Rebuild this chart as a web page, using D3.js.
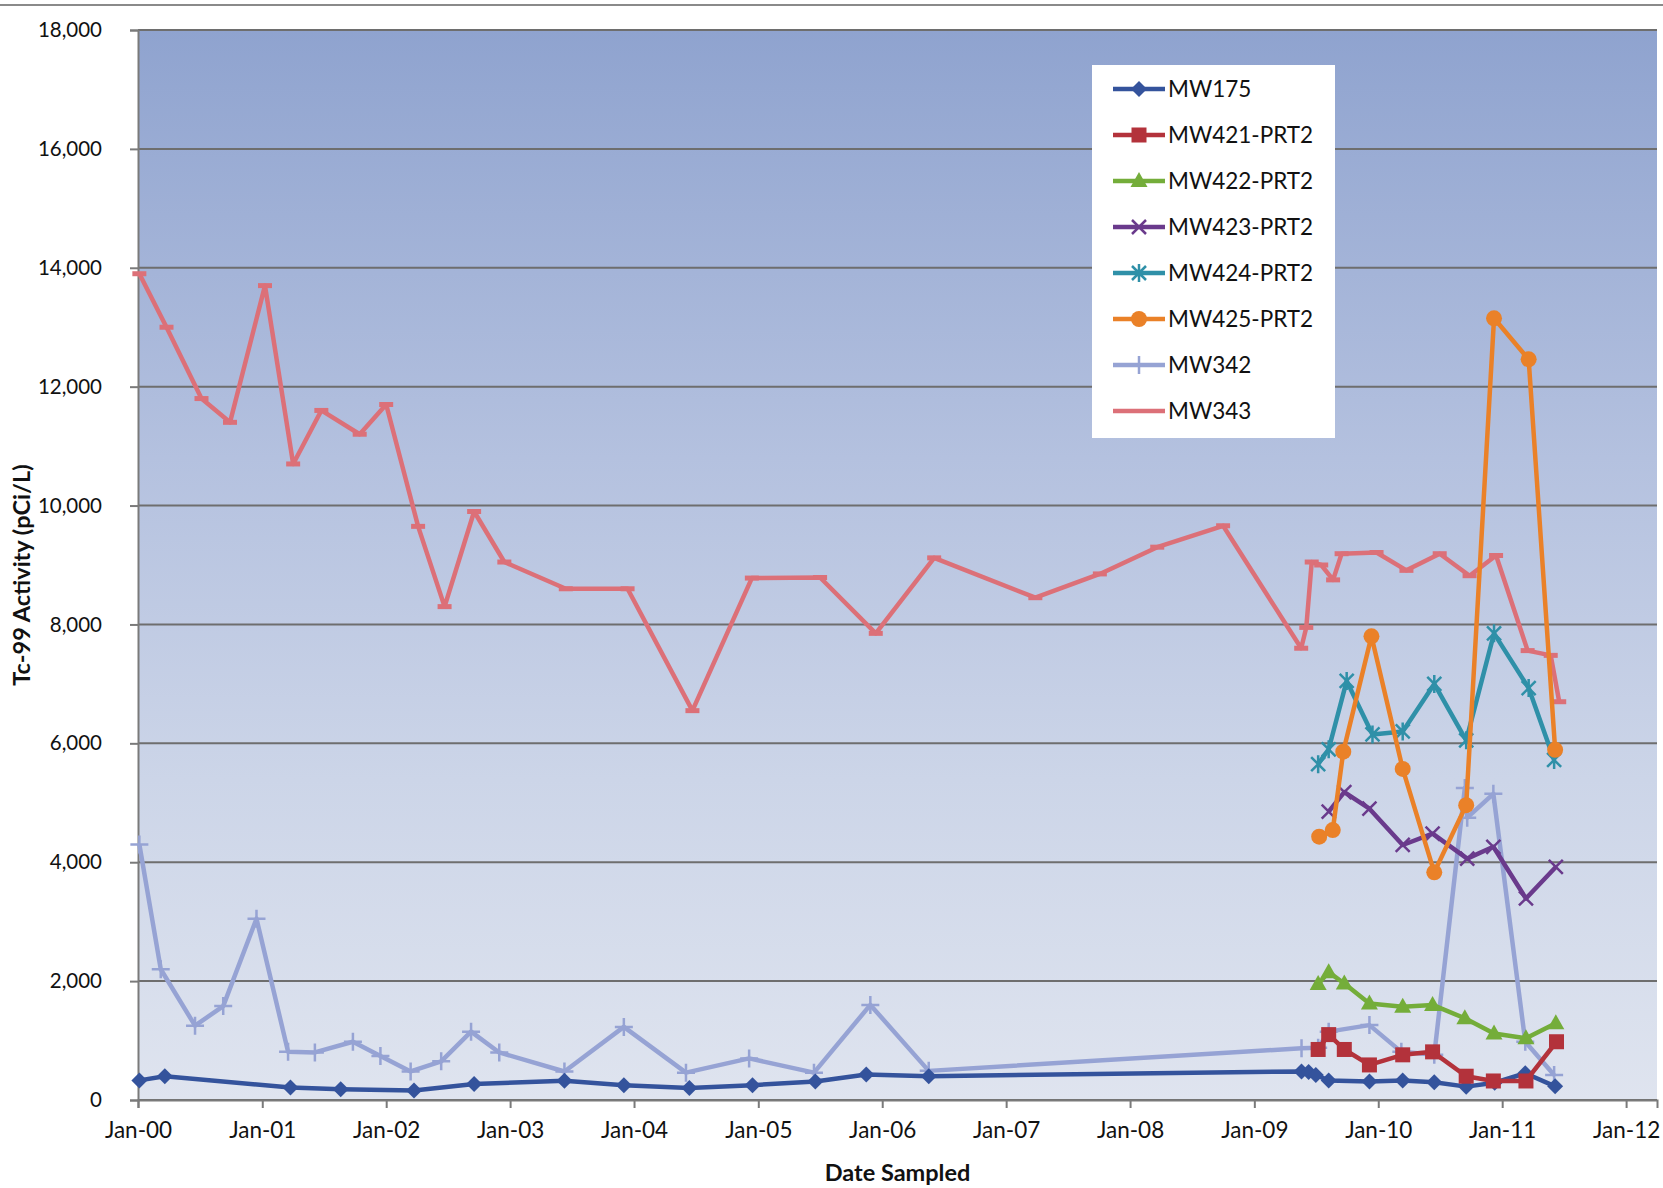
<!DOCTYPE html>
<html>
<head>
<meta charset="utf-8">
<script src="https://cdn.jsdelivr.net/npm/d3@7"></script>
<style>
  body { margin: 0; background: #fff; }
  svg text { font-family: Lato, "Open Sans", sans-serif; fill: #111; }
</style>
</head>
<body>
<script>
// sampling data (date, pCi/L)
var mw175 = [
  ["2000-01-05", 330], ["2000-03-20", 400], ["2001-03-25", 210], ["2001-08-20", 180],
  ["2002-03-24", 160], ["2002-09-17", 270], ["2003-06-10", 325], ["2003-12-02", 250],
  ["2004-06-12", 200], ["2004-12-15", 250], ["2005-06-18", 310], ["2005-11-15", 430],
  ["2006-05-18", 400], ["2009-05-20", 480], ["2009-06-10", 470], ["2009-07-01", 420],
  ["2009-08-08", 330], ["2009-12-06", 310], ["2010-03-14", 330], ["2010-06-15", 300],
  ["2010-09-17", 225], ["2010-12-10", 290], ["2011-03-10", 450], ["2011-06-06", 230]
];
var mw421 = [
  ["2009-07-08", 850], ["2009-08-08", 1100], ["2009-09-23", 850], ["2009-12-06", 590],
  ["2010-03-14", 760], ["2010-06-10", 810], ["2010-09-17", 400], ["2010-12-06", 320],
  ["2011-03-12", 320], ["2011-06-10", 980]
];
var mw422 = [
  ["2009-07-08", 1950], ["2009-08-08", 2150], ["2009-09-23", 1960], ["2009-12-06", 1625],
  ["2010-03-14", 1570], ["2010-06-10", 1600], ["2010-09-13", 1375], ["2010-12-08", 1120],
  ["2011-03-12", 1040], ["2011-06-08", 1290]
];
var mw423 = [
  ["2009-08-08", 4850], ["2009-09-23", 5180], ["2009-12-06", 4900], ["2010-03-14", 4290],
  ["2010-06-10", 4480], ["2010-09-20", 4060], ["2010-12-06", 4260], ["2011-03-12", 3390],
  ["2011-06-08", 3920]
];
var mw424 = [
  ["2009-07-08", 5650], ["2009-08-08", 5900], ["2009-09-30", 7050], ["2009-12-15", 6150],
  ["2010-03-14", 6200], ["2010-06-15", 7000], ["2010-09-17", 6050], ["2010-12-08", 7850],
  ["2011-03-20", 6930], ["2011-06-03", 5720]
];
var mw425 = [
  ["2009-07-11", 4430], ["2009-08-20", 4540], ["2009-09-20", 5860], ["2009-12-12", 7800],
  ["2010-03-14", 5570], ["2010-06-15", 3830], ["2010-09-17", 4960], ["2010-12-08", 13150],
  ["2011-03-20", 12460], ["2011-06-06", 5890]
];
var mw342 = [
  ["2000-01-05", 4300], ["2000-03-08", 2200], ["2000-06-17", 1250], ["2000-09-08", 1580],
  ["2000-12-15", 3050], ["2001-03-18", 810], ["2001-06-05", 800], ["2001-09-25", 980],
  ["2001-12-15", 740], ["2002-03-14", 480], ["2002-06-12", 650], ["2002-09-08", 1150],
  ["2002-11-30", 800], ["2003-06-10", 480], ["2003-12-02", 1230], ["2004-06-02", 460],
  ["2004-12-05", 700], ["2005-06-14", 460], ["2005-11-27", 1600], ["2006-05-18", 490],
  ["2009-05-20", 870], ["2009-07-08", 880], ["2009-08-08", 1150], ["2009-12-06", 1260],
  ["2010-03-10", 810], ["2010-06-15", 760], ["2010-09-13", 5250], ["2010-09-20", 4750],
  ["2010-12-06", 5150], ["2011-03-10", 980], ["2011-06-03", 420]
];
var mw343 = [
  ["2000-01-05", 13900], ["2000-03-25", 13000], ["2000-07-06", 11800], ["2000-09-28", 11400],
  ["2001-01-09", 13700], ["2001-04-02", 10700], ["2001-06-24", 11600], ["2001-10-15", 11200],
  ["2002-01-01", 11700], ["2002-04-05", 9650], ["2002-06-22", 8300], ["2002-09-17", 9900],
  ["2002-12-15", 9050], ["2003-06-14", 8600], ["2003-12-13", 8600], ["2004-06-21", 6550],
  ["2004-12-13", 8780], ["2005-07-02", 8790], ["2005-12-13", 7850], ["2006-06-03", 9120],
  ["2007-03-28", 8450], ["2007-10-04", 8850], ["2008-03-21", 9300], ["2008-10-01", 9660],
  ["2009-05-19", 7600], ["2009-06-03", 7950], ["2009-06-19", 9050], ["2009-07-17", 9000],
  ["2009-08-21", 8750], ["2009-09-15", 9190], ["2009-12-27", 9210], ["2010-03-25", 8910],
  ["2010-07-01", 9190], ["2010-09-27", 8820], ["2010-12-14", 9160], ["2011-03-17", 7560],
  ["2011-05-24", 7480], ["2011-06-18", 6700]
];

var seriesNames = ["MW175", "MW421-PRT2", "MW422-PRT2", "MW423-PRT2", "MW424-PRT2", "MW425-PRT2", "MW342", "MW343"];
var seriesData = [mw175, mw421, mw422, mw423, mw424, mw425, mw342, mw343];
var seriesColors = ["#34539c", "#b3323b", "#74ad3a", "#6a3a8c", "#2f90a8", "#ea8128", "#96a3d4", "#dc7078"];
var seriesMarkers = ["diamond", "square", "triangle", "x", "star", "circle", "plus", "dash"];
var yTicks = [0, 2000, 4000, 6000, 8000, 10000, 12000, 14000, 16000, 18000];

var w = 1663, h = 1188;
var plotLeft = 138, plotRight = 1657, plotTop = 30, plotBottom = 1100;

var parse = d3.timeParse("%Y-%m-%d");

var svg = d3.select("body").append("svg")
  .attr("width", w)
  .attr("height", h);

var defs = svg.append("defs");
var grad = defs.append("linearGradient")
  .attr("id", "bg")
  .attr("x1", 0).attr("y1", 0).attr("x2", 0).attr("y2", 1);
grad.append("stop").attr("offset", "0%").attr("stop-color", "#8fa3cf");
grad.append("stop").attr("offset", "40%").attr("stop-color", "#b4c1df");
grad.append("stop").attr("offset", "70%").attr("stop-color", "#ccd5e8");
grad.append("stop").attr("offset", "100%").attr("stop-color", "#dfe4ef");

// page border line at top
svg.append("line")
  .attr("x1", 0).attr("x2", w)
  .attr("y1", 5).attr("y2", 5)
  .attr("stroke", "#8a8a8a")
  .attr("stroke-width", 2);

var xScale = d3.scaleTime()
  .domain([parse("2000-01-01"), parse("2012-04-01")])
  .range([plotLeft, plotRight]);

var yScale = d3.scaleLinear()
  .domain([0, 18000])
  .range([plotBottom, plotTop]);

svg.append("rect")
  .attr("x", plotLeft)
  .attr("y", plotTop)
  .attr("width", plotRight - plotLeft)
  .attr("height", plotBottom - plotTop)
  .attr("fill", "url(#bg)");

// gridlines
svg.selectAll(".grid")
  .data(yTicks)
  .enter()
  .append("line")
  .attr("class", "grid")
  .attr("x1", plotLeft)
  .attr("x2", plotRight)
  .attr("y1", function(d){ return yScale(d); })
  .attr("y2", function(d){ return yScale(d); })
  .attr("stroke", "#6e6e6e")
  .attr("stroke-width", 2);

// axes
var yAxis = svg.append("g")
  .attr("transform", "translate(" + plotLeft + ",0)")
  .call(d3.axisLeft(yScale)
    .tickValues(yTicks)
    .tickFormat(d3.format(","))
    .tickSize(8)
    .tickPadding(28));

var xAxis = svg.append("g")
  .attr("transform", "translate(0," + plotBottom + ")")
  .call(d3.axisBottom(xScale)
    .ticks(d3.timeYear.every(1))
    .tickFormat(d3.timeFormat("%b-%y"))
    .tickSize(8)
    .tickPadding(11));

[yAxis, xAxis].forEach(function(g){
  g.select(".domain").attr("stroke", "#7a7a7a").attr("stroke-width", 2);
  g.selectAll(".tick line").attr("stroke", "#7a7a7a").attr("stroke-width", 2);
  g.selectAll(".tick text")
    .attr("font-family", "Lato, sans-serif")
    .attr("fill", "#111");
});
yAxis.selectAll(".tick text").attr("font-size", "20.5px");
xAxis.selectAll(".tick text").attr("font-size", "22.5px").attr("dy", "0.85em");

// axis titles
svg.append("text")
  .text("Tc-99 Activity (pCi/L)")
  .attr("transform", "translate(30,575) rotate(-90)")
  .attr("text-anchor", "middle")
  .attr("font-size", "23.5px")
  .attr("font-weight", "bold");

svg.append("text")
  .text("Date Sampled")
  .attr("x", (plotLeft + plotRight) / 2)
  .attr("y", 1181)
  .attr("text-anchor", "middle")
  .attr("font-size", "23.5px")
  .attr("font-weight", "bold");

function drawMarker(g, type, color) {
  if (type == "diamond") {
    g.append("path").attr("d", "M0,-8L8,0L0,8L-8,0Z").attr("fill", color);
  } else if (type == "square") {
    g.append("rect").attr("x", -7.5).attr("y", -7.5).attr("width", 15).attr("height", 15).attr("fill", color);
  } else if (type == "triangle") {
    g.append("path").attr("d", "M0,-9L8.5,6L-8.5,6Z").attr("fill", color);
  } else if (type == "circle") {
    g.append("circle").attr("r", 8).attr("fill", color);
  } else if (type == "x") {
    g.append("path").attr("d", "M-7,-7L7,7M-7,7L7,-7").attr("stroke", color).attr("stroke-width", 2.5);
  } else if (type == "star") {
    g.append("path").attr("d", "M-7,-7L7,7M-7,7L7,-7M0,-9L0,9").attr("stroke", color).attr("stroke-width", 2.5);
  } else if (type == "plus") {
    g.append("path").attr("d", "M0,-9L0,9M-9,0L9,0").attr("stroke", color).attr("stroke-width", 2.5);
  } else if (type == "dash") {
    g.append("path").attr("d", "M-7,0L7,0").attr("stroke", color).attr("stroke-width", 5);
  }
}

var line = d3.line()
  .x(function(d){ return xScale(parse(d[0])); })
  .y(function(d){ return yScale(d[1]); });

// draw the two long-running wells underneath the new ones
var drawOrder = [7, 6, 0, 1, 2, 3, 4, 5];
drawOrder.forEach(function(i){
  var g = svg.append("g");
  g.append("path")
    .datum(seriesData[i])
    .attr("d", line)
    .attr("fill", "none")
    .attr("stroke", seriesColors[i])
    .attr("stroke-width", 4.5)
    .attr("stroke-linejoin", "round");
  g.selectAll(".m")
    .data(seriesData[i])
    .enter()
    .append("g")
    .attr("class", "m")
    .attr("transform", function(d){
      return "translate(" + xScale(parse(d[0])) + "," + yScale(d[1]) + ")";
    })
    .each(function(){ drawMarker(d3.select(this), seriesMarkers[i], seriesColors[i]); });
});

// legend
var legend = svg.append("g").attr("transform", "translate(1092,65)");
legend.append("rect")
  .attr("width", 243)
  .attr("height", 373)
  .attr("fill", "#fff");

var items = legend.selectAll(".item")
  .data(seriesNames)
  .enter()
  .append("g")
  .attr("class", "item")
  .attr("transform", function(d, i){ return "translate(0," + (24 + i * 46) + ")"; });

items.append("line")
  .attr("x1", 21).attr("x2", 73)
  .attr("y1", 0).attr("y2", 0)
  .attr("stroke", function(d, i){ return seriesColors[i]; })
  .attr("stroke-width", 4.5);

items.each(function(d, i){
  if (seriesMarkers[i] != "dash") {
    drawMarker(d3.select(this).append("g").attr("transform", "translate(47,0)"), seriesMarkers[i], seriesColors[i]);
  }
});

items.append("text")
  .text(function(d){ return d; })
  .attr("x", 76)
  .attr("y", 0)
  .attr("dy", "0.35em")
  .attr("font-size", "22.5px");
</script>
</body>
</html>
